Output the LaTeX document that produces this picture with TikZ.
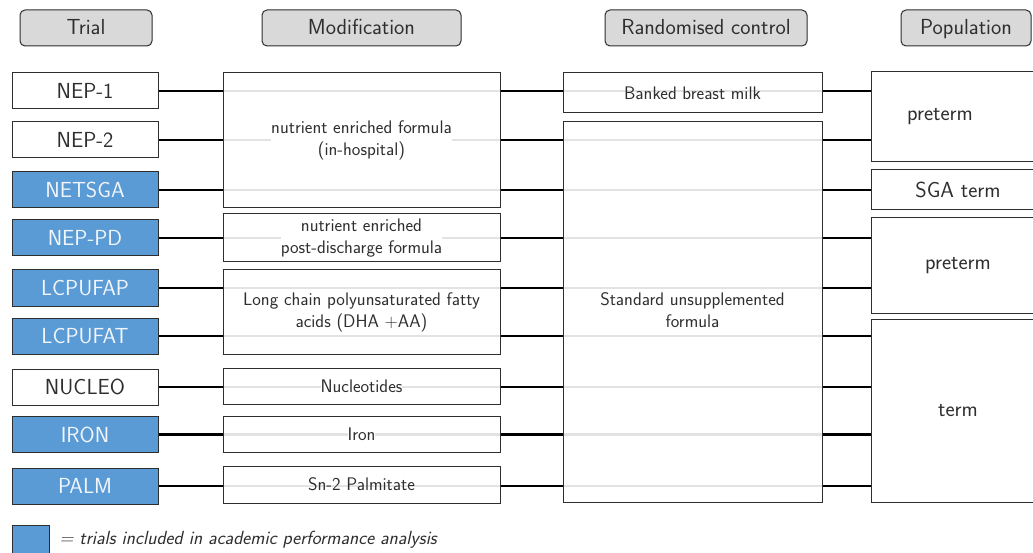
\documentclass[tikz,border=0pt]{standalone}
\usepackage{fontspec}
\usetikzlibrary{backgrounds}
\definecolor{ink}{HTML}{2E2E2E}
\definecolor{trialblue}{HTML}{5B9BD5}
\definecolor{headgray}{HTML}{D9D9D9}
\definecolor{rowgray}{HTML}{E3E3E3}
\definecolor{paletext}{HTML}{F2F6FB}
% text set on a white patch, so the row lines do not run through it
\newcommand\onwhite[1]{{\setlength{\fboxsep}{0pt}\colorbox{white}{#1}}}
\newcommand\twolines[2]{\begin{tabular}{@{}c@{}}#1\\#2\end{tabular}}
\begin{document}
\begin{tikzpicture}[x=1pt,y=-1pt,
  every node/.style={text=ink},
  box/.style={draw=ink, line width=1pt, rectangle, inner sep=0pt, align=center},
  bigtext/.style={font=\sffamily\fontsize{21.8}{26}\selectfont},
  smalltext/.style={font=\sffamily\fontsize{18.2}{22}\selectfont},
  header/.style={box, bigtext, fill=headgray, rounded corners=5pt,
    minimum height=36, text height=16.3, text depth=3.7},
  trialbox/.style={box, bigtext, minimum width=146, minimum height=36},
  included/.style={trialbox, fill=trialblue, text=paletext},
  modbox/.style={box, smalltext, minimum width=277},
  ctrlbox/.style={box, smalltext, minimum width=259},
  popbox/.style={box, bigtext, minimum width=174},
  conn/.style={line width=2.6pt, black},
  through/.style={line width=2.4pt, rowgray},
]
\path[use as bounding box] (0,0) rectangle (1033,553);
\clip (0,0) rectangle (1033,553);

% column headers
\node[header, minimum width=132] (hTrial) at (86,28) {Trial};
\node[header, minimum width=199] (hMod) at (361.5,28) {Modification};
\node[header, minimum width=202] (hCtrl) at (706,28) {Randomised control};
\node[header, minimum width=130] (hPop) at (966,28) {Population};

% trials
\node[trialbox] (t1) at (85,91) {NEP-1};
\node[trialbox] (t2) at (85,140) {NEP-2};
\node[included] (t3) at (85,190) {NETSGA};
\node[included] (t4) at (85,238) {NEP-PD};
\node[included] (t5) at (85,288) {LCPUFAP};
\node[included] (t6) at (85,336) {LCPUFAT};
\node[trialbox] (t7) at (85,387) {NUCLEO};
\node[included] (t8) at (85,434.5) {IRON};
\node[included] (t9) at (85,486) {PALM};

% modifications
\node[modbox, minimum height=135] (mA) at (361.5,140.5)
  {\onwhite{\twolines{nutrient enriched formula}{(in-hospital)}}};
\node[modbox, minimum height=48] (mB) at (361.5,238)
  {\onwhite{\twolines{nutrient enriched}{post-discharge formula}}};
\node[modbox, minimum height=84] (mC) at (361.5,312)
  {\twolines{Long chain polyunsaturated fatty}{acids (DHA +AA)}};
\node[modbox, minimum height=36] (mD) at (361.5,386) {\onwhite{Nucleotides}};
\node[modbox, minimum height=36] (mE) at (361.5,434) {\onwhite{Iron}};
\node[modbox, minimum height=37] (mF) at (361.5,484.5) {Sn-2 Palmitate};

% randomised controls
\node[ctrlbox, minimum height=40] (cA) at (692.5,93) {Banked breast milk};
\node[ctrlbox, minimum height=380] (cB) at (692.5,312)
  {\twolines{Standard unsupplemented}{formula}};

% populations
\node[popbox, minimum height=90, label={[bigtext, xshift=-18]center:preterm}] (pA) at (958,117) {};
\node[popbox, minimum height=40] (pB) at (958,190) {SGA term};
\node[popbox, minimum height=95] (pC) at (958,265.5) {preterm};
\node[popbox, minimum height=183] (pD) at (958,410.5) {term};

% row connectors: black between columns, grey where a row passes a box
\begin{scope}[on background layer]
\foreach \t/\m/\c/\p in {t1/mA/cA/pA, t2/mA/cB/pA, t3/mA/cB/pB,
                         t4/mB/cB/pC, t5/mC/cB/pC, t6/mC/cB/pD,
                         t7/mD/cB/pD, t8/mE/cB/pD, t9/mF/cB/pD} {
  \draw[through] (\t.east -| \m.west) -- (\t.east -| \m.east);
  \draw[through] (\t.east -| \c.west) -- (\t.east -| \c.east);
  \draw[conn] (\t.east) -- (\t.east -| \m.west);
  \draw[conn] (\t.east -| \m.east) -- (\t.east -| \c.west);
  \draw[conn] (\t.east -| \c.east) -- (\t.east -| \p.west);
}
\end{scope}

% key
\node[box, fill=trialblue, minimum width=37, minimum height=35] (key) at (30.5,542.5) {};
\node[anchor=west, font=\sffamily\itshape\fontsize{19}{23}\selectfont]
  (keytext) at (56,540) {= trials included in academic performance analysis};
\end{tikzpicture}
\end{document}
